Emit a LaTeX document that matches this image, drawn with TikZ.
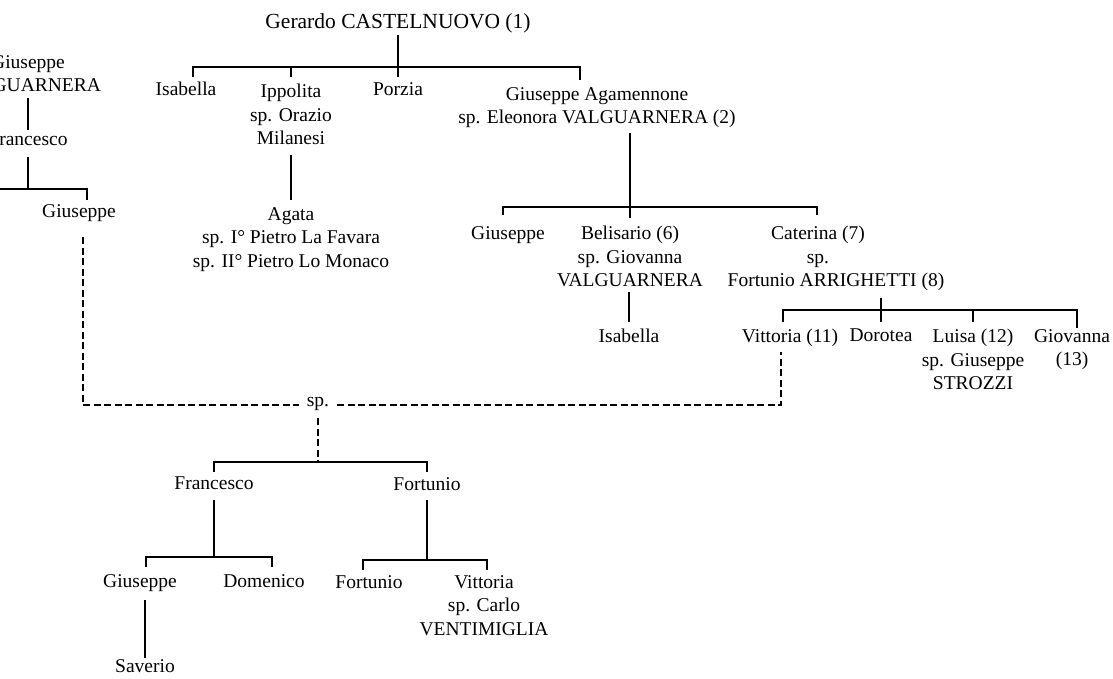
\documentclass[tikz,border=0pt]{standalone}
\usepackage{fontspec}
\setmainfont{Liberation Serif}
\begin{document}
\begin{tikzpicture}[x=1pt,y=-1pt,
  person/.style={anchor=north, inner sep=0pt, align=center, font=\fontsize{19.5}{23.5}\selectfont},
  kin/.style={line width=1.1pt},
  marr/.style={line width=1.1pt, dash pattern=on 7pt off 3.5pt}]
\useasboundingbox (0,0) rectangle (1113,679);
\clip (0,0) rectangle (1113,679);
% nodes
\node[person, font=\fontsize{21.5}{25}\selectfont] (gerardo) at (398,13) {Gerardo CASTELNUOVO (1)};
\node[person] (isabellaA) at (186,82) {Isabella};
\node[person] (ippolita) at (291,84) {Ippolita\\sp. Orazio\\Milanesi};
\node[person] (porzia) at (398,82) {Porzia};
\node[person] (agamennone) at (597,87) {Giuseppe Agamennone\\sp. Eleonora VALGUARNERA (2)};
\node[person] (agata) at (291,207) {Agata\\sp. I° Pietro La Favara\\sp. II° Pietro Lo Monaco};
\node[person] (giuseppeV) at (28,55) {Giuseppe\\VALGUARNERA};
\node[person] (francescoV) at (28,133) {Francesco};
\node[person] (giuseppeF) at (79,204) {Giuseppe};
\node[person] (giuseppeB) at (508,226) {Giuseppe};
\node[person] (belisario) at (630,226) {Belisario (6)\\sp. Giovanna\\VALGUARNERA};
\node[person] (isabellaB) at (629,329) {Isabella};
\node[person] (caterina) at (818,226) {Caterina (7)\\sp.\\\hspace*{36pt}Fortunio ARRIGHETTI (8)};
\node[person] (vittoria) at (790,329) {Vittoria (11)};
\node[person] (dorotea) at (881,329) {Dorotea};
\node[person] (luisa) at (973,329) {Luisa (12)\\sp. Giuseppe\\STROZZI};
\node[person] (giovanna) at (1072,329) {Giovanna\\(13)};
\node[person, inner xsep=8pt] (sp) at (318,397) {sp.};
\node[person] (francesco) at (214,477) {Francesco};
\node[person] (fortunio) at (427,477) {Fortunio};
\node[person] (giuseppeC) at (140,574) {Giuseppe};
\node[person] (domenico) at (264,574) {Domenico};
\node[person] (saverio) at (145,659) {Saverio};
\node[person] (fortunioC) at (369,575) {Fortunio};
\node[person] (vittoriaC) at (484,575) {Vittoria\\sp. Carlo\\VENTIMIGLIA};
% junction coordinates
\coordinate (b0L) at (-10,189); \coordinate (b0R) at (87,189);
\coordinate (b1L) at (193,67);  \coordinate (b1R) at (580,67);
\coordinate (b2L) at (503,207); \coordinate (b2R) at (817,207);
\coordinate (b3L) at (783,310); \coordinate (b3R) at (1077,310);
\coordinate (b5L) at (146,557); \coordinate (b5R) at (272,557);
\coordinate (b6L) at (363,560); \coordinate (b6R) at (487,560);
\coordinate (m1) at (83,405);   \coordinate (m2) at (781,405);
% Castelnuovo
\draw[kin] (gerardo.south |- 0,35) -- (porzia.north |- 0,77);
\draw[kin] (b1L |- 0,77) -- (b1L) -- (b1R) -- (b1R |- 0,80);
\draw[kin] (ippolita.north |- 0,67) -- (ippolita.north |- 0,77);
\draw[kin] (ippolita.south |- 0,155) -- (agata.north |- 0,200);
\draw[kin] (belisario.north |- 0,133) -- (belisario.north |- 0,218);
\draw[kin] (b2L |- 0,215) -- (b2L) -- (b2R) -- (b2R |- 0,215);
\draw[kin] (isabellaB.north |- 0,292) -- (isabellaB.north |- 0,322);
\draw[kin] (dorotea.north |- 0,298) -- (dorotea.north |- 0,322);
\draw[kin] (b3L |- 0,322) -- (b3L) -- (b3R) -- (b3R |- 0,328);
\draw[kin] (luisa.north |- 0,310) -- (luisa.north |- 0,322);
% Valguarnera
\draw[kin] (giuseppeV.south |- 0,98) -- (francescoV.north |- 0,130);
\draw[kin] (francescoV.south |- 0,157) -- (francescoV.south |- 0,189);
\draw[kin] (b0L) -- (b0R) -- (b0R |- 0,200);
% marriage
\draw[marr] (m1 |- 0,237) -- (m1) -- (sp.west |- m1);
\draw[marr] (sp.east |- m2) -- (m2) -- (m2 |- 0,352);
\draw[marr] (sp.south |- 0,418) -- (sp.south |- 0,462);
% descendants
\draw[kin] (francesco.north |- 0,472) -- (francesco.north |- 0,462) -- (fortunio.north |- 0,462) -- (fortunio.north |- 0,472);
\draw[kin] (francesco.south |- 0,500) -- (francesco.south |- 0,557);
\draw[kin] (b5L |- 0,567) -- (b5L) -- (b5R) -- (b5R |- 0,567);
\draw[kin] (saverio.north |- 0,600) -- (saverio.north |- 0,658);
\draw[kin] (fortunio.south |- 0,500) -- (fortunio.south |- 0,560);
\draw[kin] (b6L |- 0,570) -- (b6L) -- (b6R) -- (b6R |- 0,570);
\end{tikzpicture}
\end{document}
